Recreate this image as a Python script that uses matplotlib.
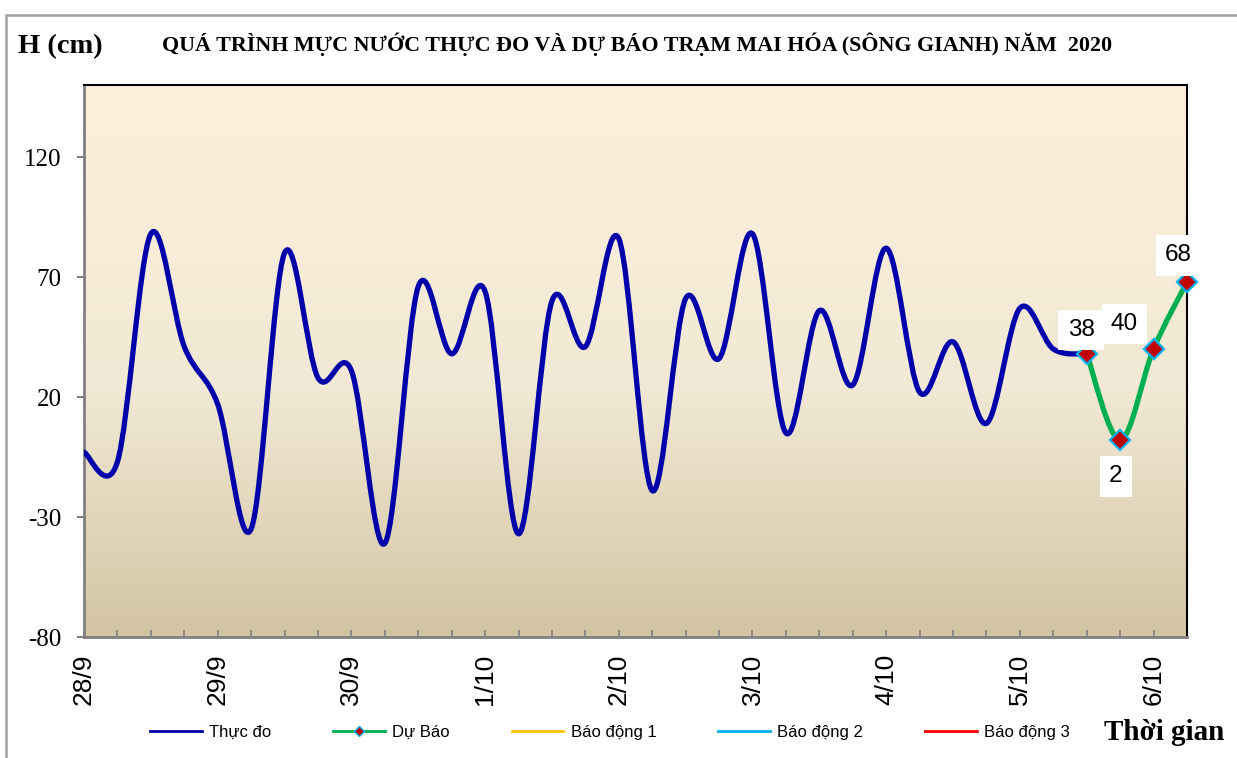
import numpy as np
import matplotlib
matplotlib.use("Agg")
import matplotlib.pyplot as plt
from matplotlib.colors import LinearSegmentedColormap
from matplotlib.lines import Line2D
from matplotlib.patches import PathPatch, Rectangle
from matplotlib.path import Path

# ---- data (6-hourly water level, cm) ----
day_labels = ["28/9", "29/9", "30/9", "1/10", "2/10", "3/10", "4/10", "5/10", "6/10"]
steps_per_day = 4

observed = [-3, -7, 88, 41, 17, -35, 80, 28, 31, -41, 66, 38, 64, -37, 60, 41,
            86, -19, 61, 36, 88, 5, 56, 25, 82, 22, 43, 9, 57, 40, 38]
forecast = [38, 2, 40, 68]

y_ticks = [-80, -30, 20, 70, 120]
y_range = (-80, 150)

legend_labels = ["Thực đo", "Dự Báo", "Báo động 1", "Báo động 2", "Báo động 3"]

# label offsets (points) for forecast data labels
label_offsets = [(-4, 17), (-3, -26), (-21, 18), (-6, 19)]

SERIF = "Liberation Serif"
SANS = "Liberation Sans"


def smooth_path(xs, ys):
    """Excel-like smoothed line as cubic bezier path."""
    pts = np.column_stack([xs, ys]).astype(float)
    padded = np.vstack([pts[0], pts, pts[-1]])
    verts = [pts[0]]
    codes = [Path.MOVETO]
    for i in range(len(pts) - 1):
        p0, p1, p2, p3 = padded[i], padded[i + 1], padded[i + 2], padded[i + 3]
        verts += [p1 + (p2 - p0) / 6, p2 - (p3 - p1) / 6, p2]
        codes += [Path.CURVE4] * 3
    return Path(verts, codes)


fig = plt.figure(figsize=(12.37, 7.58), dpi=100)
ax = fig.add_axes([84 / 1237, 1 - 637 / 758, (1187 - 84) / 1237, (637 - 85) / 758])

n_points = len(observed) + len(forecast) - 1
x_obs = np.arange(len(observed))
x_fc = np.arange(len(observed) - 1, n_points)

# gradient background
cmap = LinearSegmentedColormap.from_list(
    "parch", [(0.0, "#D3C5A2"), (0.45, "#F1E9D5"), (1.0, "#FDF0DB")])
grad = np.linspace(0, 1, 256).reshape(-1, 1)
ax.imshow(grad, cmap=cmap, origin="lower", aspect="auto",
          extent=[0, n_points - 1, y_range[0], y_range[1]], zorder=0)

ax.add_patch(PathPatch(smooth_path(x_obs, observed), fill=False,
                       edgecolor="#0000AA", lw=3.8, capstyle="round",
                       joinstyle="round", zorder=3))
ax.add_patch(PathPatch(smooth_path(x_fc, forecast), fill=False,
                       edgecolor="#00B050", lw=3.8, capstyle="round",
                       joinstyle="round", zorder=4))
ax.plot(x_fc, forecast, linestyle="none", marker="D", markersize=10.5,
        markerfacecolor="#C00000", markeredgecolor="#00B0F0",
        markeredgewidth=1.6, zorder=5, clip_on=False)

for xi, yi, off in zip(x_fc, forecast, label_offsets):
    ax.annotate(f"{yi}", (xi, yi), xytext=off, textcoords="offset points",
                ha="center", va="center", fontsize=17.5, family=SANS,
                bbox=dict(boxstyle="square,pad=0.38", fc="white", ec="none"),
                zorder=6, annotation_clip=False)

ax.set_xlim(0, n_points - 1)
ax.set_ylim(*y_range)
ax.set_yticks(y_ticks)
ax.set_yticklabels([str(v) for v in y_ticks], family=SERIF, fontsize=18)
ax.tick_params(axis="y", direction="out", length=5, width=1.5,
               color="#808080", pad=11)

ax.set_xticks(np.arange(n_points))
ax.set_xticklabels([day_labels[i // steps_per_day] if i % steps_per_day == 0 else ""
                    for i in range(n_points)],
                   rotation=90, family=SANS, fontsize=19)
ax.tick_params(axis="x", direction="in", length=5, width=1.2,
               color="#808080", pad=12)

for side in ["left", "bottom"]:
    ax.spines[side].set_color("#808080")
    ax.spines[side].set_linewidth(2)
for side in ["top", "right"]:
    ax.spines[side].set_color("black")
    ax.spines[side].set_linewidth(1.5)

# outer chart border
fig.patches.append(Rectangle((6 / 1237, -0.1), 1.2, 1 - 15 / 758 + 0.1,
                             transform=fig.transFigure, fill=False,
                             edgecolor="#A0A0A0", lw=1.8))

fig.text(18 / 1237, 1 - 47 / 758, "H (cm)", family=SERIF, weight="bold",
         fontsize=20.5, ha="left", va="center")
fig.text(637 / 1237, 1 - 44 / 758,
         "QUÁ TRÌNH MỰC NƯỚC THỰC ĐO VÀ DỰ BÁO TRẠM MAI HÓA (SÔNG GIANH) NĂM  2020",
         family=SERIF, weight="bold", fontsize=15.8, ha="center", va="center")
fig.text(1104 / 1237, 1 - 732 / 758, "Thời gian", family=SERIF, weight="bold",
         fontsize=21, ha="left", va="center")

handles = [
    Line2D([], [], color="#0000AA", lw=2),
    Line2D([], [], color="#00B050", lw=2, marker="D", markersize=5,
           markerfacecolor="#C00000", markeredgecolor="#00B0F0"),
    Line2D([], [], color="#FFC000", lw=2),
    Line2D([], [], color="#00B0F0", lw=2),
    Line2D([], [], color="#FF0000", lw=2),
]
fig.legend(handles, legend_labels, loc="center left",
           bbox_to_anchor=(150 / 1237, 1 - 732 / 758), ncol=5, frameon=False,
           prop={"family": SANS, "size": 12}, handlelength=3.1,
           handletextpad=0.45, columnspacing=3.7, borderpad=0, borderaxespad=0)

fig.savefig("out.png", dpi=100)
